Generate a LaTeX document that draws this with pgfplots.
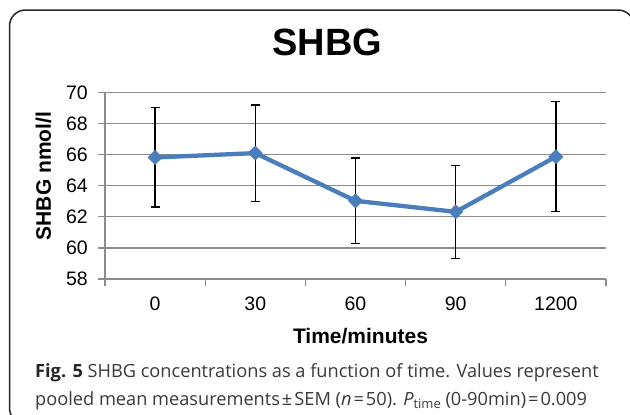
\documentclass[border=0pt]{standalone}
\usepackage{pgfplots}
\pgfplotsset{compat=1.18}
\usepackage{fontspec}
\setmainfont{Liberation Sans}
\newfontfamily\capfont{Open Sans}
\definecolor{excelblue}{HTML}{4A7EBB}
\definecolor{gridgray}{HTML}{8C8C8C}
\definecolor{captext}{HTML}{3A3A3A}
\pgfplotstableread{
x y err
0 65.82 3.19
1 66.10 3.10
2 63.03 2.75
3 62.32 3.00
4 65.87 3.53
}\shbg
\begin{document}
\begin{tikzpicture}[x=1pt,y=1pt]
\clip (0,0) rectangle (630,-415);
\fill[white] (0,0) rectangle (630,-415);
\draw[line width=1.5pt, color=black!85, rounded corners=16pt] (9.5,-10) rectangle (634,-424);
\node[anchor=base, inner sep=0, font=\fontsize{38}{40}\selectfont\bfseries] at (327.5,-55) {SHBG};
\begin{axis}[
  at={(105pt,-279pt)}, anchor=south west, scale only axis,
  width=501pt, height=186.5pt,
  xmin=-0.5, xmax=4.5, ymin=58, ymax=70,
  /pgf/number format/assume math mode=true,
  axis lines*=left,
  axis line style={gridgray, line width=1.3pt},
  xtick={0,1,2,3,4},
  xticklabels={0,30,60,90,1200},
  minor xtick={-0.5,0.5,1.5,2.5,3.5,4.5},
  ytick={58,60,...,70},
  tick align=outside,
  major tick length=7pt,
  minor tick length=7pt,
  x tick style={draw=none},
  minor x tick style={draw=gridgray, line width=1.3pt},
  y tick style={gridgray, line width=1.3pt},
  ymajorgrids,
  major grid style={gridgray, line width=1.3pt},
  xticklabel style={anchor=base, inner sep=0pt, yshift=-24pt, font=\fontsize{19.5}{20}\selectfont},
  yticklabel style={anchor=east, inner sep=0pt, xshift=-10pt, font=\fontsize{19.5}{20}\selectfont},
  clip=false,
]
\addplot[draw=none, mark=none, forget plot,
  error bars/.cd, y dir=both, y explicit,
  error bar style={black, line width=1.2pt},
  error mark options={black, line width=1.2pt, mark size=4.5pt, rotate=90}]
  table[x=x, y=y, y error=err] {\shbg};
\addplot[excelblue, line width=4.3pt, mark=square*, mark size=5pt,
  mark options={solid, fill=excelblue, draw=excelblue, line width=0.5pt, rotate=45}]
  table[x=x, y=y] {\shbg};
\end{axis}
\node[rotate=90, anchor=center, inner sep=0, font=\fontsize{21}{22}\selectfont\bfseries] at (43.5,-176) {SHBG nmol/l};
\node[anchor=base, inner sep=0, font=\fontsize{21}{22}\selectfont\bfseries] at (360.5,-343) {Time/minutes};
\node[anchor=base west, inner sep=0, text=captext, font=\capfont\fontsize{18.2}{20}\selectfont] at (35,-377)
  {\textbf{\color{black!85}Fig. 5} SHBG concentrations as a function of time. Values represent};
\node[anchor=base west, inner sep=0, text=captext, font=\capfont\fontsize{18.2}{20}\selectfont] at (35,-405)
  {pooled mean measurements\hspace{2pt}±\hspace{2pt}SEM ({\itshape n}\hspace{2pt}=\hspace{2pt}50). {\itshape P}\raisebox{-0.35ex}{\fontsize{13}{13}\selectfont time} (0-90min)\hspace{2pt}=\hspace{2pt}0.009};
\end{tikzpicture}
\end{document}
